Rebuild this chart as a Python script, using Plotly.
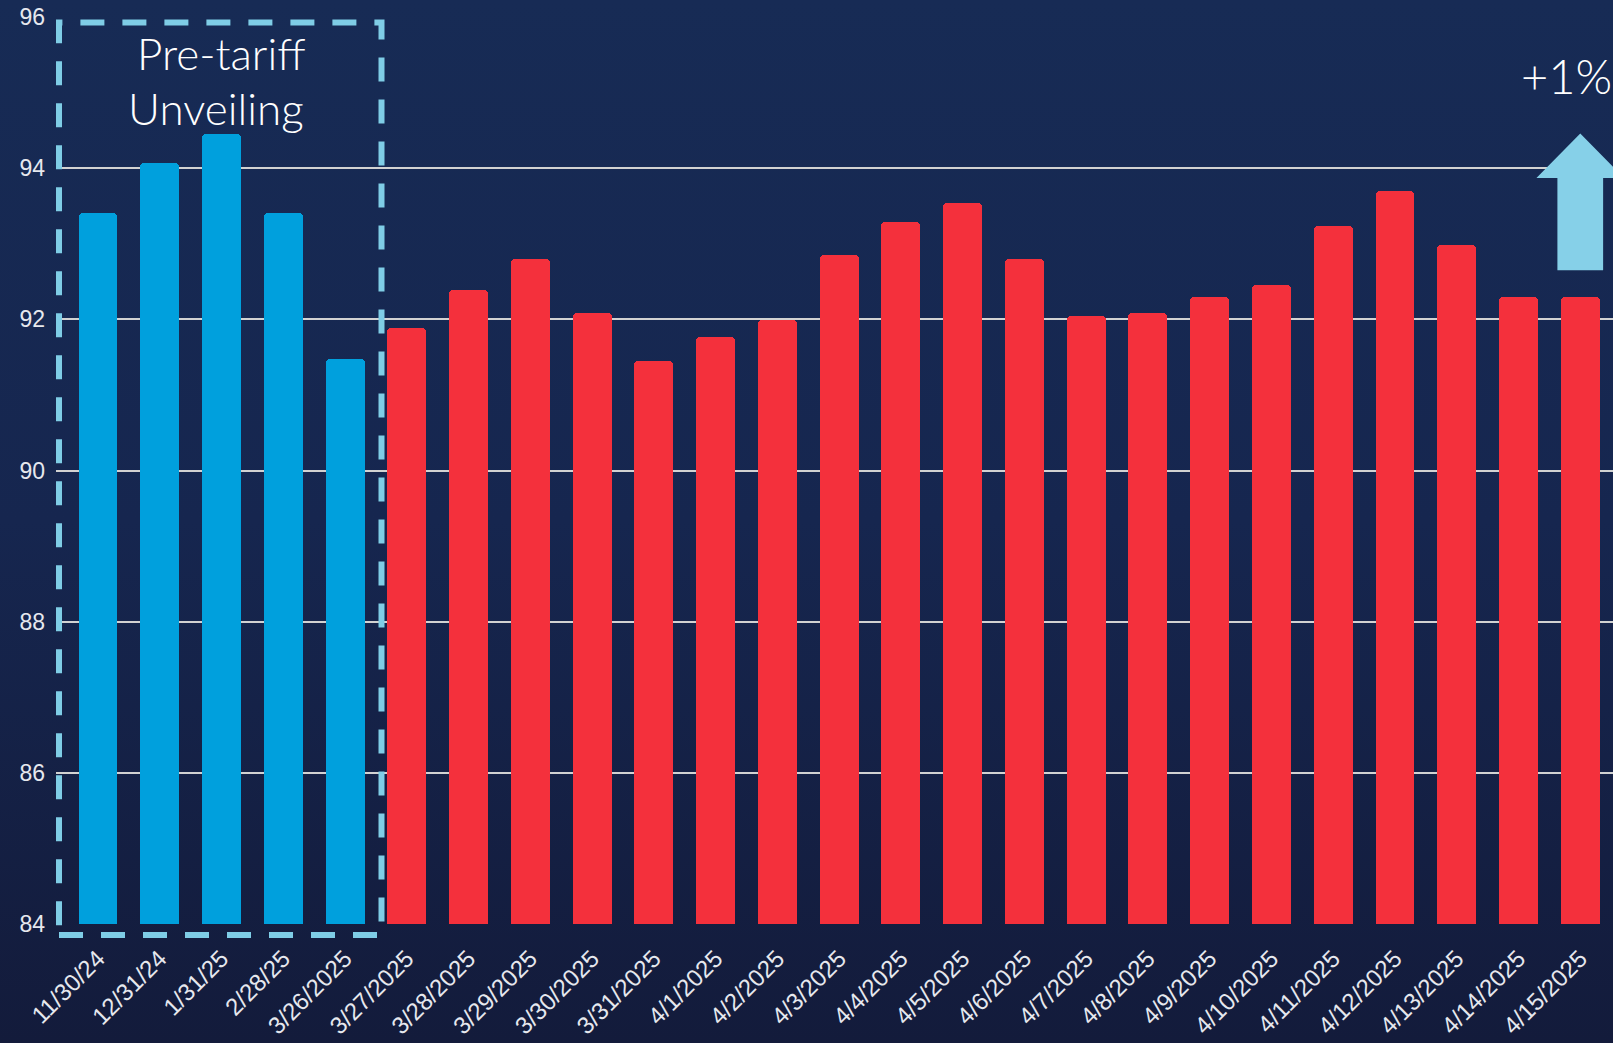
import base64

import plotly.graph_objects as go

# consumer sentiment style index, pre-tariff months then daily readings
dates = [
    "11/30/24", "12/31/24", "1/31/25", "2/28/25", "3/26/2025",
    "3/27/2025", "3/28/2025", "3/29/2025", "3/30/2025", "3/31/2025",
    "4/1/2025", "4/2/2025", "4/3/2025", "4/4/2025", "4/5/2025",
    "4/6/2025", "4/7/2025", "4/8/2025", "4/9/2025", "4/10/2025",
    "4/11/2025", "4/12/2025", "4/13/2025", "4/14/2025", "4/15/2025",
]
values = [
    93.41, 94.07, 94.45, 93.41, 91.48,
    91.89, 92.39, 92.80, 92.08, 91.45,
    91.77, 91.99, 92.85, 93.29, 93.54,
    92.80, 92.04, 92.08, 92.29, 92.45,
    93.23, 93.70, 92.98, 92.29, 92.29,
]
n_pre = 5  # bars before the tariff unveiling

BLUE = "#00A0DD"
RED = "#F4303C"
LIGHT = "#7FCDE6"

W, H = 1613, 1043
L, R, T, B = 56, 0, 17, 119
pw, ph = W - L - R, H - T - B

idx = list(range(len(dates)))
colors = [BLUE if i < n_pre else RED for i in idx]

fig = go.Figure(
    go.Bar(
        x=idx,
        y=values,
        marker=dict(color=colors, line=dict(width=0), cornerradius=4),
        width=0.63,
        hoverinfo="x+y",
    )
)

# vertical gradient background via an svg data uri
svg = (
    f'<svg xmlns="http://www.w3.org/2000/svg" width="{W}" height="{H}" preserveAspectRatio="none">'
    '<defs><linearGradient id="g" x1="0" y1="0" x2="0" y2="1">'
    '<stop offset="0" stop-color="#172B55"/><stop offset="0.5" stop-color="#16264F"/>'
    '<stop offset="1" stop-color="#131B3B"/></linearGradient></defs>'
    f'<rect width="{W}" height="{H}" fill="url(#g)"/></svg>'
)
bg = "data:image/svg+xml;base64," + base64.b64encode(svg.encode()).decode()
fig.add_layout_image(
    source=bg, xref="paper", yref="paper",
    x=-L / pw, y=1 + T / ph, sizex=W / pw, sizey=H / ph,
    sizing="stretch", xanchor="left", yanchor="top", layer="below",
)

# dashed box around pre-tariff bars
fig.add_shape(
    type="rect", xref="paper", yref="paper",
    x0=(59 - L) / pw, x1=(381.5 - L) / pw,
    y0=(H - B - 935) / ph, y1=(H - B - 22.6) / ph,
    line=dict(color=LIGHT, width=6, dash="24px,18px"),
    layer="above",
)

# up arrow over the last bar
xc, sh, hh = 24, 0.37, 0.71
fig.add_shape(
    type="path", xref="x", yref="y",
    path=(f"M {xc - sh} 92.65 L {xc - sh} 93.87 L {xc - hh} 93.87 L {xc} 94.46 "
          f"L {xc + hh} 93.87 L {xc + sh} 93.87 L {xc + sh} 92.65 Z"),
    fillcolor="#86D0E8", line=dict(width=0), layer="above",
)

txt = dict(xref="paper", yref="paper", showarrow=False, yanchor="middle")
fig.add_annotation(text="Pre-tariff", x=(221 - L) / pw, y=(H - B - 53) / ph, xanchor="center",
                   font=dict(family="Lato", size=44, weight=300, color="white"), **txt)
fig.add_annotation(text="Unveiling", x=(216 - L) / pw, y=(H - B - 108) / ph, xanchor="center",
                   font=dict(family="Lato", size=44, weight=300, color="white"), **txt)
fig.add_annotation(text="+1%", x=(1519 - L) / pw, y=(H - B - 76) / ph, xanchor="left",
                   font=dict(family="Lato", size=47, weight=300, color="white"), **txt)

fig.update_layout(
    width=W, height=H,
    margin=dict(l=L, r=R, t=T, b=B, pad=0),
    paper_bgcolor="#16264F",
    plot_bgcolor="rgba(0,0,0,0)",
    showlegend=False,
    bargap=0,
    font=dict(family="Liberation Sans, Arial", color="#E6E8EE"),
    xaxis=dict(
        range=[-0.68, 24.53],
        tickmode="array", tickvals=idx, ticktext=dates,
        tickangle=-45, tickfont=dict(size=24, color="#E6E8EE"),
        showgrid=False, zeroline=False, showline=False,
        ticks="outside", ticklen=10, tickcolor="rgba(0,0,0,0)",
    ),
    yaxis=dict(
        range=[84, 96], dtick=2,
        tickfont=dict(size=23, color="#E6E8EE"),
        gridcolor="#D2D2D2", gridwidth=2,
        zeroline=False, showline=False, ticks="",
        ticklabelstandoff=10,
    ),
)

fig.write_html(
    "out.html",
    config={"displayModeBar": False},
    post_script="document.body.style.margin='0px';document.body.style.overflow='hidden';",
)
